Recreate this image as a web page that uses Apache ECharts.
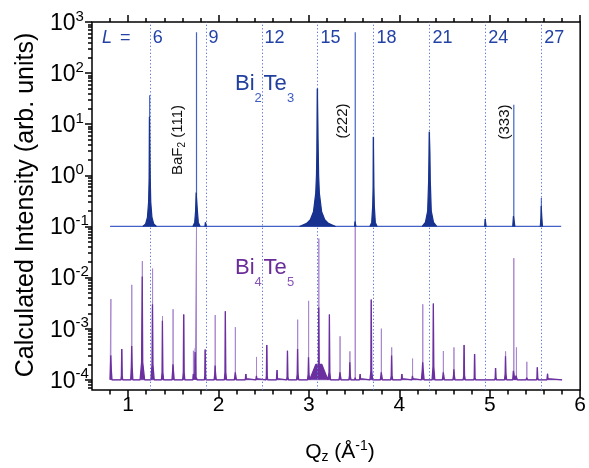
<!DOCTYPE html>
<html><head><meta charset="utf-8">
<script src="https://cdn.jsdelivr.net/npm/echarts@6/dist/echarts.min.js"></script>
<style>html,body{margin:0;padding:0;background:#fff}#c{width:589px;height:468px}</style>
</head><body><div id="c"></div>
<script>
// ---------------- data ----------------
const xTicks = [1, 2, 3, 4, 5, 6];
const yTickExp = [-4, -3, -2, -1, 0, 1, 2, 3];
const lValues = [6, 9, 12, 15, 18, 21, 24, 27];
const qPerL = 0.2063;                       // Å^-1 per L (Bi2Te3 00L)
const curveStart = [0.80, 0.80];            // [Bi2Te3, Bi4Te5]
const curveEnd = [5.79, 5.80];

// Bi2Te3 (+ BaF2 substrate peaks)
const bi2te3Base = 0.1;
const bi2te3Q   = [1.238, 1.756, 1.857, 3.095, 3.512, 3.714, 4.333, 4.952, 5.266, 5.571];
const bi2te3Tip = [37,    630,   0.12,  50,    630,   5.6,   7.1,   0.14,  24,    0.36];
// dense (dark) part of each peak: half-profile [dQ from centre, intensity], outer -> inner
const bi2te3Profile = [
  [[0.075, 0.1], [0.045, 0.112], [0.025, 0.15], [0.012, 0.3], [0.006, 0.9], [0.003, 14]],
  [[0.04, 0.1], [0.02, 0.12], [0.01, 0.2], [0.004, 0.46]],
  [[0.008, 0.1], [0.003, 0.12]],
  [[0.2, 0.1], [0.12, 0.115], [0.08, 0.135], [0.045, 0.195], [0.02, 0.45], [0.012, 1.0], [0.008, 2.7], [0.003, 50]],
  [[0.008, 0.1], [0.003, 0.125]],
  [[0.04, 0.1], [0.02, 0.12], [0.009, 0.25], [0.004, 0.6], [0.002, 5.6]],
  [[0.08, 0.1], [0.045, 0.12], [0.02, 0.2], [0.009, 0.8], [0.005, 2.7], [0.002, 7.1]],
  [[0.008, 0.1], [0.003, 0.14]],
  [[0.012, 0.1], [0.004, 0.16]],
  [[0.012, 0.1], [0.005, 0.15], [0.002, 0.25]]
];

// Bi4Te5 (+ BaF2 substrate peaks)
const bi4te5Base = 1e-4;
const bi4te5Q = [0.809,0.930,1.040,1.157,1.270,1.380,1.497,1.615,1.722,1.742,1.756,1.853,1.963,2.076,2.186,2.303,2.420,2.534,2.648,2.763,2.875,2.996,3.109,3.227,3.344,3.453,3.512,3.567,3.690,3.801,3.915,4.029,4.146,4.259,4.377,4.487,4.604,4.717,4.833,5.065,5.175,5.266,5.295,5.410,5.527,5.640];
const bi4te5Tip = [3.8e-3,4.0e-4,7.2e-3,2.1e-2,1.5e-2,1.75e-3,2.4e-3,1.9e-3,3.7e-4,4.2e-4,0.1,3.9e-4,1.85e-3,2.2e-3,1.07e-3,1.3e-4,2.8e-4,4.8e-4,1.55e-4,3.7e-4,1.5e-3,3.5e-3,5.8e-2,1.9e-3,7.1e-4,3.6e-4,0.1,1.3e-4,3.7e-3,1.0e-3,4.3e-4,1.3e-4,2.6e-4,3.0e-3,3.1e-3,3.65e-4,4.3e-4,4.8e-4,3.2e-4,1.7e-4,3.6e-4,2.4e-2,4.3e-4,2.25e-4,1.75e-4,1.33e-4];
const bi4te5Core = [3.0e-4,4.0e-4,4.6e-4,1.05e-2,3.0e-3,1.43e-3,2.0e-4,1.9e-3,1.3e-4,3.5e-4,1.1e-4,3.9e-4,1.9e-4,2.2e-3,1.4e-4,1.3e-4,1.2e-4,4.8e-4,1.55e-4,3.7e-4,4.0e-4,2.75e-4,2.6e-3,1.9e-3,1.4e-4,2.2e-4,1.1e-4,1.3e-4,3.7e-3,1.4e-4,3.0e-4,1.3e-4,1.2e-4,2.2e-4,3.1e-3,1.4e-4,1.6e-4,4.8e-4,3.2e-4,1.7e-4,2.9e-4,1.6e-4,1.2e-4,1.1e-4,1.75e-4,1.3e-4];
const bi4te5Shoulder = [1.6e-4,1.2e-4,1.8e-4,2.2e-4,2.0e-4,1.4e-4,1.5e-4,1.4e-4,1.1e-4,1.3e-4,1.05e-4,1.2e-4,1.3e-4,1.4e-4,1.2e-4,1.05e-4,1.05e-4,1.2e-4,1.05e-4,1.15e-4,1.3e-4,1.3e-4,2.0e-4,1.4e-4,1.2e-4,1.2e-4,1.05e-4,1.05e-4,1.5e-4,1.2e-4,1.2e-4,1.05e-4,1.05e-4,1.6e-4,1.8e-4,1.2e-4,1.2e-4,1.2e-4,1.1e-4,1.1e-4,1.3e-4,1.5e-4,1.2e-4,1.05e-4,1.1e-4,1.05e-4];
const bi4te5Width = [0.012,0.01,0.012,0.025,0.018,0.012,0.012,0.012,0.006,0.006,0.006,0.01,0.012,0.012,0.012,0.008,0.008,0.01,0.008,0.01,0.012,0.012,0.1,0.012,0.012,0.012,0.006,0.008,0.015,0.012,0.012,0.008,0.008,0.015,0.015,0.012,0.012,0.012,0.01,0.01,0.012,0.012,0.01,0.008,0.01,0.008];

// ---------------- build series data ----------------
function buildThin(base, start, end, Q, tip) {
  const pts = [[start, base]];
  Q.forEach((q, i) => { pts.push([q, base], [q, tip[i]], [q, base]); });
  pts.push([end, base]);
  return pts;
}
function buildCoreContinuous(base, start, end, Q, core, sh, wd) {
  const pts = [[start, base]];
  Q.forEach((q, i) => {
    const w = wd[i], a = Math.max(w / 3, 0.005);
    pts.push([q - w, base], [q - a, sh[i]], [q - 0.004, sh[i]], [q - 0.0012, core[i]],
             [q + 0.0012, core[i]], [q + 0.004, sh[i]], [q + a, sh[i]], [q + w, base]);
  });
  pts.push([end, base]);
  return pts;
}
function buildCoreProfiles(Q, profiles) {
  const pts = [];
  Q.forEach((q, i) => {
    const p = profiles[i];
    p.forEach(([d, v]) => pts.push([q - d, v]));
    p.slice().reverse().forEach(([d, v]) => pts.push([q + d, v]));
    pts.push([q + p[0][0], '-']);
  });
  return pts;
}

const FONT = '"Liberation Sans", Arial, Helvetica, sans-serif';
const xMin = 0.6, xMax = 6, yMin = Math.pow(10, -4.2), yMax = 1000;
const xMinor = [];
for (let k = 4; k <= 29; k++) { const v = +(k * 0.2).toFixed(1); if (Math.abs(v - Math.round(v)) > 1e-9) xMinor.push(v); }
const yMajor = yTickExp.map(e => Math.pow(10, e));
const yMinor = [];
for (let e = -5; e <= 2; e++) for (let m = 2; m <= 9; m++) { const v = +(m * Math.pow(10, e)).toPrecision(3); if (v > yMin && v < yMax) yMinor.push(v); }

const chart = echarts.init(document.getElementById('c'), null, {renderer: 'canvas'});

const tickStyle = {color: '#000', width: 1.5};
function xAx(pos, ticks, len, labels) {
  return {type: 'value', min: xMin, max: xMax, position: pos,
    axisLine: {show: false}, splitLine: {show: false},
    axisTick: {show: true, customValues: ticks, length: len, inside: false, lineStyle: tickStyle},
    axisLabel: labels ? {show: true, customValues: ticks, fontSize: 21, color: '#000', margin: 5, fontFamily: FONT} : {show: false}};
}
function yAx(pos, ticks, len, labels) {
  return {type: 'log', logBase: 10, min: yMin, max: yMax, position: pos,
    axisLine: {show: false}, splitLine: {show: false}, minorTick: {show: false},
    axisTick: {show: true, customValues: ticks, length: len, lineStyle: tickStyle},
    axisLabel: labels ? {
      show: true, customValues: ticks, align: 'left', margin: 42, fontFamily: FONT,
      formatter: v => '{b|10}{s|' + Math.round(Math.log10(v)) + '}',
      rich: {b: {fontSize: 23, lineHeight: 26, color: '#000', fontFamily: FONT, verticalAlign: 'bottom'},
             s: {fontSize: 15, lineHeight: 15, color: '#000', fontFamily: FONT, verticalAlign: 'top'}}
    } : {show: false}};
}

const option = {
  animation: false,
  backgroundColor: '#fff',
  grid: {left: 92, right: 6, top: 22, bottom: 78, show: true, borderColor: '#000', borderWidth: 1.5, backgroundColor: 'transparent'},
  xAxis: [xAx('bottom', xTicks, 8, true), xAx('bottom', xMinor, 4.5, false), xAx('top', xTicks, 7, false), xAx('top', xMinor, 4, false)],
  yAxis: [yAx('left', yMajor, 7, true), yAx('left', yMinor, 4, false)],
  series: [
    {name: 'Bi4Te5 line', type: 'line', symbol: 'none', sampling: 'none', z: 2,
     data: buildThin(bi4te5Base, curveStart[1], curveEnd[1], bi4te5Q, bi4te5Tip),
     lineStyle: {color: '#a988cf', width: 1}, itemStyle: {color: '#a988cf'},
     markLine: {silent: true, symbol: ['none', 'none'], label: {show: false},
       lineStyle: {color: '#5f78d8', width: 1, type: [1.3, 2.2]},
       data: lValues.map(L => ({xAxis: L * qPerL}))}},
    {name: 'Bi4Te5 core', type: 'line', symbol: 'none', sampling: 'none', z: 3,
     data: buildCoreContinuous(bi4te5Base, curveStart[1], curveEnd[1], bi4te5Q, bi4te5Core, bi4te5Shoulder, bi4te5Width),
     lineStyle: {color: '#6b2f9f', width: 1.3}, itemStyle: {color: '#6b2f9f'},
     areaStyle: {origin: bi4te5Base, color: '#6b2f9f', opacity: 1}},
    {name: 'Bi2Te3 line', type: 'line', symbol: 'none', sampling: 'none', z: 4,
     data: buildThin(bi2te3Base, curveStart[0], curveEnd[0], bi2te3Q, bi2te3Tip),
     lineStyle: {color: '#4262c8', width: 1.2}, itemStyle: {color: '#4262c8'}},
    {name: 'Bi2Te3 core', type: 'line', symbol: 'none', sampling: 'none', z: 5, connectNulls: false,
     data: buildCoreProfiles(bi2te3Q, bi2te3Profile),
     lineStyle: {color: '#17328f', width: 1.2}, itemStyle: {color: '#17328f'},
     areaStyle: {origin: bi2te3Base, color: '#17328f', opacity: 1}}
  ]
};
chart.setOption(option);

// ---------------- text (graphic) ----------------
const mctx = document.createElement('canvas').getContext('2d');
function tw(t, s, it) { mctx.font = (it ? 'italic ' : '') + s + 'px ' + FONT; return mctx.measureText(t).width; }
function pieceGroup(pieces, cx, cy, anchor, color, rot) {
  const total = pieces.reduce((a, p) => a + tw(p.t, p.s, p.i), 0);
  let x = anchor === 'center' ? -total / 2 : 0;
  const children = pieces.map(p => {
    const el = {type: 'text', x: x, y: p.dy || 0, style: {text: p.t, fontSize: p.s, fontFamily: FONT,
      fontStyle: p.i ? 'italic' : 'normal', fill: color, align: 'left', verticalAlign: 'middle'}};
    x += tw(p.t, p.s, p.i);
    return el;
  });
  return {type: 'group', x: cx, y: cy, rotation: rot || 0, children: children};
}
function txt(t, x, y, s, color, align, it) {
  return {type: 'text', x: x, y: y, style: {text: t, fontSize: s, fontFamily: FONT, fontStyle: it ? 'italic' : 'normal',
    fill: color, align: align || 'left', verticalAlign: 'middle'}};
}
const blueTxt = '#2342a6', purpleTxt = '#6a2c98';
const g = [];
g.push({type: 'text', x: 26, y: 205, rotation: Math.PI / 2,
  style: {text: 'Calculated Intensity (arb. units)', fontSize: 25, fontFamily: FONT, fill: '#000', align: 'center', verticalAlign: 'middle'}});
g.push(pieceGroup([{t: 'Q', s: 21}, {t: 'z', s: 14, dy: 5}, {t: ' (Å', s: 21}, {t: '-1', s: 14, dy: -6}, {t: ')', s: 21}], 340, 452, 'center', '#000'));
g.push(txt('L', 102, 38, 18, blueTxt, 'left', true));
g.push(txt('=', 120, 38, 18, blueTxt, 'left'));
lValues.forEach(L => {
  const px = chart.convertToPixel({xAxisIndex: 0}, L * qPerL);
  g.push(txt(String(L), px + 3, 38, 18, blueTxt, 'left'));
});
g.push(txt('Bi', 235, 84, 22, '#213f9e'));
g.push(txt('2', 254.5, 98, 13, '#3c5bc0'));
g.push(txt('Te', 263.5, 84, 22, '#213f9e'));
g.push(txt('3', 287, 98, 13, '#3c5bc0'));
g.push(txt('Bi', 235, 268, 22, purpleTxt));
g.push(txt('4', 254.5, 282, 13, '#8a55b8'));
g.push(txt('Te', 263.5, 268, 22, purpleTxt));
g.push(txt('5', 287, 282, 13, '#8a55b8'));
g.push(pieceGroup([{t: 'BaF', s: 15}, {t: '2', s: 10, dy: 4}, {t: ' (111)', s: 15}], 178, 140, 'center', '#111', Math.PI / 2));
g.push(pieceGroup([{t: '(222)', s: 15}], 343, 121, 'center', '#111', Math.PI / 2));
g.push(pieceGroup([{t: '(333)', s: 15}], 505, 122, 'center', '#111', Math.PI / 2));
chart.setOption({graphic: g});
</script>
</body></html>
